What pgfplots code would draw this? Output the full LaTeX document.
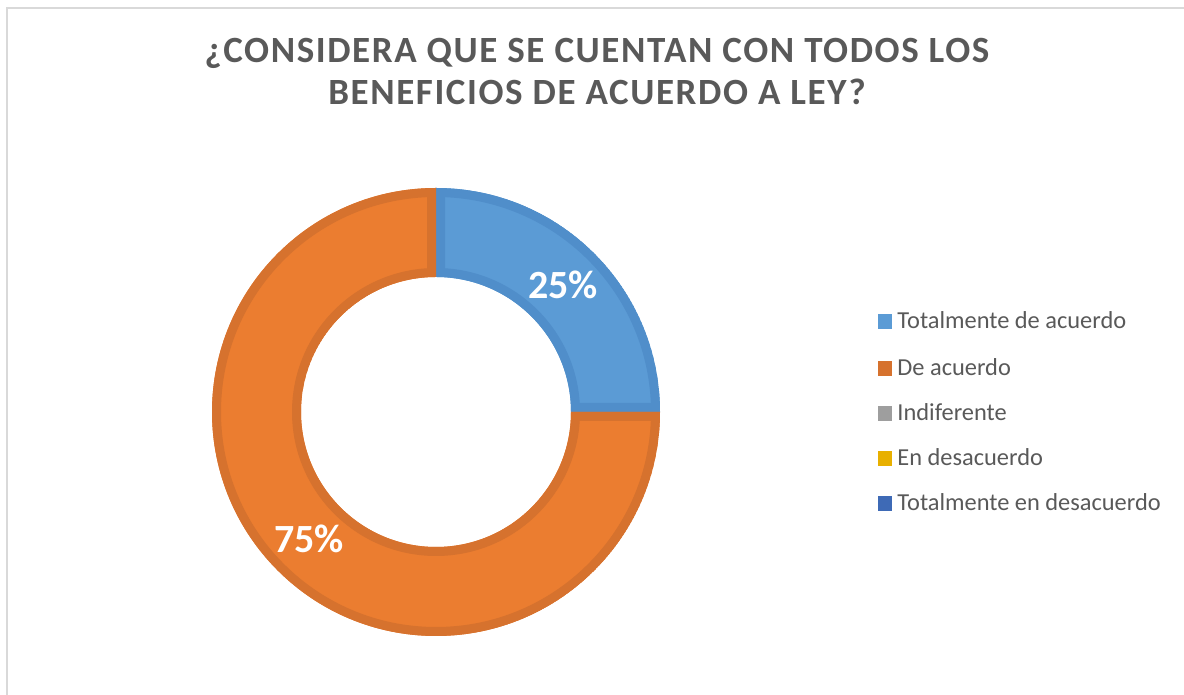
\documentclass[border=0pt]{standalone}
\usepackage{pgfplots}
\pgfplotsset{compat=1.18}
\usepackage{pgfplotstable}
\usepackage{fontspec}
\setmainfont{Carlito}
\newfontfamily\titlefont[LetterSpace=4.3]{Carlito}
\definecolor{c1}{RGB}{91,155,213}
\definecolor{c1d}{RGB}{80,142,202}
\definecolor{c2}{RGB}{235,125,48}
\definecolor{c2d}{RGB}{214,114,46}
\definecolor{c3}{RGB}{158,158,158}
\definecolor{c4}{RGB}{232,176,0}
\definecolor{c5}{RGB}{62,106,182}
\definecolor{txt}{RGB}{89,89,89}
\definecolor{frame}{RGB}{217,217,217}
\pgfplotstableread[col sep=comma]{
label,value
Totalmente de acuerdo,25
De acuerdo,75
Indiferente,0
En desacuerdo,0
Totalmente en desacuerdo,0
}\datatbl
\newcommand\donutwedge[4]{%
\begin{scope}
\clip ([shift={(#1:112pt)}]axis cs:436,283) arc[start angle=#1,end angle=#2,radius=112pt] -- ([shift={(#2:67.5pt)}]axis cs:436,283) arc[start angle=#2,end angle=#1,radius=67.5pt] -- cycle;
\path[fill=#3,draw=#4,line width=9pt,line join=miter] ([shift={(#1:112pt)}]axis cs:436,283) arc[start angle=#1,end angle=#2,radius=112pt] -- ([shift={(#2:67.5pt)}]axis cs:436,283) arc[start angle=#2,end angle=#1,radius=67.5pt] -- cycle;
\end{scope}}
\begin{document}
\begin{tikzpicture}[x=0.5pt,y=0.5pt]
\pgfplotstablegetelem{0}{value}\of\datatbl\pgfmathsetmacro\va{\pgfplotsretval}
\pgfplotstablegetelem{1}{value}\of\datatbl\pgfmathsetmacro\vb{\pgfplotsretval}
\pgfplotstablegetelem{2}{value}\of\datatbl\pgfmathsetmacro\vc{\pgfplotsretval}
\pgfplotstablegetelem{3}{value}\of\datatbl\pgfmathsetmacro\vd{\pgfplotsretval}
\pgfplotstablegetelem{4}{value}\of\datatbl\pgfmathsetmacro\ve{\pgfplotsretval}
\pgfmathsetmacro\tot{\va+\vb+\vc+\vd+\ve}
\pgfmathsetmacro\aA{90}
\pgfmathsetmacro\aB{90-\va/\tot*360}
\pgfmathsetmacro\aC{\aB-\vb/\tot*360}
\pgfmathsetmacro\mA{(\aA+\aB)/2}
\pgfmathsetmacro\mB{(\aB+\aC)/2}
\pgfmathtruncatemacro\pA{round(\va/\tot*100)}
\pgfmathtruncatemacro\pB{round(\vb/\tot*100)}
\begin{axis}[at={(0,0)},anchor=south west,x=0.5pt,y=0.5pt,
  xmin=0,xmax=1184,ymin=0,ymax=695,hide axis,clip=false]
\addplot[draw=none,forget plot] coordinates {(0,0)};
\donutwedge{\aA}{\aB}{c1}{c1d}
\donutwedge{\aB}{\aC}{c2}{c2d}
\node[text=white,font=\bfseries\fontsize{20}{24}\selectfont] at ([shift={(\mA:89.75pt)}]axis cs:436,283) {\pA\%};
\node[text=white,font=\bfseries\fontsize{20}{24}\selectfont] at ([shift={(\mB:89.75pt)}]axis cs:436,283) {\pB\%};
\end{axis}
\draw[frame,line width=0.8pt] (7,0) -- (7,687) -- (1184,687);
\node[anchor=base,text=txt,font=\titlefont\bfseries\fontsize{18.5}{22}\selectfont] at (597,632) {¿CONSIDERA QUE SE CUENTAN CON TODOS LOS};
\node[anchor=base,text=txt,font=\titlefont\bfseries\fontsize{18.5}{22}\selectfont] at (597,590) {BENEFICIOS DE ACUERDO A LEY?};
\foreach \i/\c/\y in {0/c1/375,1/c2d/328,2/c3/283,3/c4/238,4/c5/193}{
  \pgfplotstablegetelem{\i}{label}\of\datatbl
  \fill[\c] (878,\y-9) rectangle (892,\y+6);
  \node[anchor=base west,inner sep=0pt,text=txt,font=\fontsize{12.2}{14}\selectfont] at (897,\y-9) {\pgfplotsretval};
}
\pgfresetboundingbox
\path (0,0) rectangle (1184,695);
\end{tikzpicture}
\end{document}
